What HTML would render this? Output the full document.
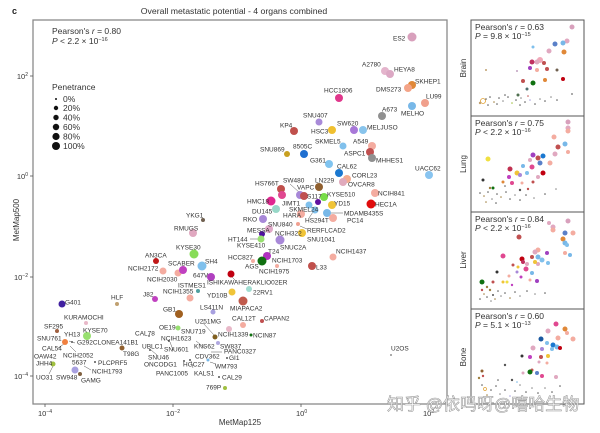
<!DOCTYPE html>
<html><head><meta charset="utf-8"><style>
html,body{margin:0;padding:0;background:#fff;}
svg{display:block;}
text{font-family:"Liberation Sans","Noto Sans CJK SC",sans-serif;}
.l{font-size:6.5px;fill:#333;}
.t{font-size:7.5px;fill:#333;}
</style></head><body>
<svg width="600" height="433" viewBox="0 0 600 433" xmlns="http://www.w3.org/2000/svg">
<rect width="600" height="433" fill="#fff"/>
<text x="12" y="14" font-size="9" font-weight="bold" fill="#222">c</text>
<text x="234" y="14" font-size="8.7" fill="#333" text-anchor="middle">Overall metastatic potential - 4 organs combined</text>

<!-- main frame -->
<rect x="33" y="20" width="414" height="384" fill="none" stroke="#8a8a8a" stroke-width="1.3"/>
<g stroke="#555" stroke-width="0.8">
<line x1="30" y1="76" x2="33" y2="76"/><line x1="30" y1="176" x2="33" y2="176"/><line x1="30" y1="277" x2="33" y2="277"/><line x1="30" y1="376" x2="33" y2="376"/>
<line x1="45" y1="404" x2="45" y2="407"/><line x1="173" y1="404" x2="173" y2="407"/><line x1="301" y1="404" x2="301" y2="407"/><line x1="428" y1="404" x2="428" y2="407"/>
</g>
<g class="t" text-anchor="end">
<text x="28" y="79">10<tspan dy="-3" font-size="5">2</tspan></text>
<text x="28" y="179">10<tspan dy="-3" font-size="5">0</tspan></text>
<text x="28" y="280">10<tspan dy="-3" font-size="5">−2</tspan></text>
<text x="28" y="379">10<tspan dy="-3" font-size="5">−4</tspan></text>
</g>
<g class="t">
<text x="38" y="416">10<tspan dy="-3" font-size="5">−4</tspan></text>
<text x="166" y="416">10<tspan dy="-3" font-size="5">−2</tspan></text>
<text x="296" y="416">10<tspan dy="-3" font-size="5">0</tspan></text>
<text x="423" y="416">10<tspan dy="-3" font-size="5">2</tspan></text>
</g>
<text x="240" y="425" font-size="8" fill="#333" text-anchor="middle">MetMap125</text>
<text transform="translate(19,220) rotate(-90)" font-size="8" fill="#333" text-anchor="middle">MetMap500</text>

<!-- annotation -->
<text x="52" y="34" font-size="8.5" fill="#333">Pearson's <tspan font-style="italic">r</tspan> = 0.80</text>
<text x="52" y="44" font-size="8.5" fill="#333"><tspan font-style="italic">P</tspan> &lt; 2.2 × 10<tspan dy="-3" font-size="5.5">−16</tspan></text>
<!-- legend -->
<text x="52" y="90" font-size="8.5" fill="#333">Penetrance</text>
<g fill="#111">
<circle cx="56" cy="99" r="1"/><circle cx="56" cy="108" r="2.2"/><circle cx="56" cy="117.5" r="2.7"/><circle cx="56" cy="127" r="3.2"/><circle cx="56" cy="136.5" r="3.6"/><circle cx="56" cy="146" r="4"/>
</g>
<g font-size="8.5" fill="#333">
<text x="63" y="102">0%</text><text x="63" y="111">20%</text><text x="63" y="120.5">40%</text><text x="63" y="130">60%</text><text x="63" y="139.5">80%</text><text x="63" y="149">100%</text>
</g>

<!-- connector lines -->
<g stroke="#555" stroke-width="0.5" fill="none">
<line x1="290" y1="184" x2="300" y2="193"/>
<line x1="331" y1="213" x2="343" y2="213"/>
<line x1="309" y1="218" x2="313" y2="212"/>
<line x1="250" y1="239" x2="260" y2="239"/>
<line x1="300" y1="226" x2="307" y2="229"/>
<line x1="231" y1="276" x2="236" y2="281"/>
<line x1="203" y1="323" x2="214" y2="335"/>
<line x1="196" y1="341" x2="205" y2="348"/>
<line x1="211" y1="352" x2="222" y2="352"/>
<line x1="210" y1="362" x2="216" y2="364"/>
<line x1="84" y1="366" x2="91" y2="370"/>
<line x1="53" y1="366" x2="49" y2="374"/>
<line x1="58" y1="348" x2="64" y2="344"/>
<line x1="70" y1="346" x2="76" y2="352"/>
<line x1="69" y1="341" x2="75" y2="343"/>
<line x1="193" y1="368" x2="191" y2="361"/>
<line x1="173" y1="350" x2="170" y2="342"/>
<line x1="157" y1="355" x2="151" y2="350"/>
</g>

<!-- main points -->
<g>
<circle cx="412" cy="37" r="4.5" fill="#d8a0bc"/>
<circle cx="385" cy="71" r="4" fill="#e4b4cc"/>
<circle cx="390" cy="74" r="4" fill="#dca8c4"/>
<circle cx="412" cy="85" r="4" fill="#e08838"/>
<circle cx="408" cy="88" r="4" fill="#f4a488"/>
<circle cx="425" cy="103" r="4" fill="#f0a08c"/>
<circle cx="339" cy="98" r="4" fill="#e0388c"/>
<circle cx="412" cy="106" r="4" fill="#78b8e8"/>
<circle cx="382" cy="116" r="4" fill="#909090"/>
<circle cx="319" cy="122" r="3.5" fill="#a88ad8"/>
<circle cx="354" cy="130" r="4" fill="#a878d8"/>
<circle cx="363" cy="130" r="4" fill="#88c4ec"/>
<circle cx="294" cy="131" r="4" fill="#c0504c"/>
<circle cx="332" cy="130" r="4" fill="#f0c030"/>
<circle cx="343" cy="146" r="3.5" fill="#80c0ec"/>
<circle cx="372" cy="146" r="4" fill="#f4aca0"/>
<circle cx="370" cy="152" r="4" fill="#c05050"/>
<circle cx="372" cy="158" r="4" fill="#909090"/>
<circle cx="287" cy="154" r="3" fill="#c8a020"/>
<circle cx="304" cy="154" r="4" fill="#1f6fd0"/>
<circle cx="329" cy="164" r="4" fill="#80c4f0"/>
<circle cx="339" cy="173" r="4" fill="#1a78d0"/>
<circle cx="429" cy="175" r="4" fill="#88c4f0"/>
<circle cx="347" cy="179" r="4" fill="#f4ac90"/>
<circle cx="343" cy="182" r="4" fill="#e0aabc"/>
<circle cx="319" cy="187" r="4" fill="#906030"/>
<circle cx="375" cy="193" r="4" fill="#f4aca0"/>
<circle cx="371" cy="204" r="4.5" fill="#e00c0c"/>
<circle cx="324" cy="197" r="4" fill="#78dc48"/>
<circle cx="332" cy="205" r="4" fill="#f0c438"/>
<circle cx="318" cy="202" r="3" fill="#6010a0"/>
<circle cx="327" cy="213" r="4" fill="#78b8e8"/>
<circle cx="333" cy="218" r="4" fill="#f4aca0"/>
<circle cx="281" cy="189" r="4" fill="#c0504c"/>
<circle cx="282" cy="195" r="4" fill="#e04890"/>
<circle cx="300" cy="195" r="4" fill="#a888d8"/>
<circle cx="304" cy="196" r="4" fill="#c05050"/>
<circle cx="271" cy="201" r="4.5" fill="#e02890"/>
<circle cx="309" cy="205" r="3.5" fill="#80c0ec"/>
<circle cx="315" cy="210" r="3.5" fill="#80c0ec"/>
<circle cx="276" cy="209" r="4" fill="#98d8c8"/>
<circle cx="301" cy="214" r="4" fill="#f4aca0"/>
<circle cx="263" cy="219" r="4" fill="#a888d8"/>
<circle cx="269" cy="229" r="4" fill="#e0a8c8"/>
<circle cx="298" cy="224" r="2" fill="#f0a090"/>
<circle cx="262" cy="234" r="3" fill="#5010a0"/>
<circle cx="302" cy="233" r="4" fill="#f0c438"/>
<circle cx="261" cy="239" r="3.5" fill="#98e070"/>
<circle cx="280" cy="240" r="4.5" fill="#a888d8"/>
<circle cx="267" cy="256" r="4" fill="#b030c0"/>
<circle cx="253" cy="261" r="2" fill="#f4aca0"/>
<circle cx="262" cy="261" r="4.5" fill="#107010"/>
<circle cx="277" cy="266" r="2" fill="#f4aca0"/>
<circle cx="333" cy="257" r="3.5" fill="#f4aca0"/>
<circle cx="312" cy="266" r="4" fill="#c0504c"/>
<circle cx="231" cy="274" r="3.5" fill="#c00010"/>
<circle cx="249" cy="289" r="3" fill="#a0dcd0"/>
<circle cx="232" cy="292" r="3.5" fill="#f0c438"/>
<circle cx="243" cy="301" r="4.5" fill="#c05a4c"/>
<circle cx="243" cy="325" r="3" fill="#f4aca0"/>
<circle cx="262" cy="321" r="2" fill="#c05050"/>
<circle cx="229" cy="329" r="3" fill="#e8b8c8"/>
<circle cx="251" cy="335" r="1.5" fill="#107010"/>
<circle cx="391" cy="355" r="1" fill="#909090"/>
<circle cx="203" cy="220" r="2" fill="#706050"/>
<circle cx="193" cy="233" r="4" fill="#e0a8c0"/>
<circle cx="194" cy="254" r="4.5" fill="#88dc58"/>
<circle cx="202" cy="266" r="4.5" fill="#80c0ec"/>
<circle cx="178" cy="273" r="3.5" fill="#f4aca0"/>
<circle cx="183" cy="270" r="4" fill="#c040c0"/>
<circle cx="211" cy="277" r="4" fill="#b040c0"/>
<circle cx="156" cy="261" r="3" fill="#c01818"/>
<circle cx="163" cy="271" r="3.5" fill="#f4aca0"/>
<circle cx="198" cy="291" r="2" fill="#50a0a0"/>
<circle cx="190" cy="298" r="3.5" fill="#f4aca0"/>
<circle cx="155" cy="299" r="3" fill="#c040c0"/>
<circle cx="117" cy="304" r="2" fill="#c0a070"/>
<circle cx="62" cy="304" r="3.5" fill="#4020a0"/>
<circle cx="179" cy="314" r="4" fill="#a06020"/>
<circle cx="213" cy="312" r="2.5" fill="#a8a0e0"/>
<circle cx="86" cy="323" r="2" fill="#e8b8c8"/>
<circle cx="57" cy="331" r="2" fill="#a06040"/>
<circle cx="178" cy="328" r="2.5" fill="#98e070"/>
<circle cx="215" cy="337" r="2.5" fill="#806020"/>
<circle cx="87" cy="336" r="4" fill="#98e070"/>
<circle cx="149" cy="336" r="1" fill="#808080"/>
<circle cx="65" cy="342" r="3" fill="#f08040"/>
<circle cx="122" cy="348" r="2.5" fill="#906030"/>
<circle cx="53" cy="364" r="2.5" fill="#a0c040"/>
<circle cx="75" cy="370" r="3.5" fill="#a8a0e0"/>
<circle cx="80" cy="374" r="2" fill="#806040"/>
<circle cx="225" cy="388" r="2" fill="#a0c040"/>
<circle cx="218" cy="343" r="2" fill="#b0a8e0"/>
<circle cx="95" cy="362" r="1" fill="#555"/>
<circle cx="227" cy="358" r="1" fill="#555"/>
<circle cx="219" cy="377" r="1" fill="#555"/>
<circle cx="208" cy="360" r="1.5" fill="#78b8e8"/>
<circle cx="190" cy="360" r="1" fill="#555"/>
<circle cx="184" cy="361" r="1" fill="#555"/>
<circle cx="72" cy="342" r="1" fill="#555"/>
<circle cx="169" cy="341" r="1" fill="#555"/>
<circle cx="150" cy="350" r="1" fill="#555"/>
</g>

<!-- main labels -->
<g class="l">
<text x="393" y="40.5">ES2</text>
<text x="362" y="66.5">A2780</text>
<text x="394" y="71.5">HEYA8</text>
<text x="415" y="83.5">SKHEP1</text>
<text x="376" y="91.5">DMS273</text>
<text x="426" y="98.5">LU99</text>
<text x="324" y="92.5">HCC1806</text>
<text x="382" y="111.5">A673</text>
<text x="401" y="115.5">MELHO</text>
<text x="303" y="117.5">SNU407</text>
<text x="337" y="125.5">SW620</text>
<text x="367" y="129.5">MELJUSO</text>
<text x="280" y="127.5">KP4</text>
<text x="311" y="133.5">HSC3</text>
<text x="315" y="143.5">SKMEL5</text>
<text x="353" y="143.5">A549</text>
<text x="344" y="155.5">ASPC1</text>
<text x="376" y="162.5">MHHES1</text>
<text x="260" y="151.5">SNU869</text>
<text x="293" y="148.5">8505C</text>
<text x="310" y="162.5">G361</text>
<text x="337" y="168.5">CAL62</text>
<text x="415" y="170.5">UACC62</text>
<text x="352" y="177.5">CORL23</text>
<text x="348" y="186.5">OVCAR8</text>
<text x="315" y="182.5">LN229</text>
<text x="378" y="195.5">NCIH841</text>
<text x="375" y="206.5">HEC1A</text>
<text x="327" y="196.5">KYSE510</text>
<text x="334" y="205.5">YD15</text>
<text x="344" y="215.5">MDAMB435S</text>
<text x="347" y="222.5">PC14</text>
<text x="255" y="185.5">HS766T</text>
<text x="283" y="182.5">SW480</text>
<text x="297" y="189.5">VAPC</text>
<text x="307" y="198.5">S117</text>
<text x="247" y="203.5">HMC18</text>
<text x="282" y="205.5">JIMT1</text>
<text x="289" y="211.5">SKMEL24</text>
<text x="252" y="213.5">DU145</text>
<text x="283" y="217.5">HARA</text>
<text x="305" y="222.5">HS294T</text>
<text x="243" y="221.5">RKO</text>
<text x="268" y="226.5">SNU840</text>
<text x="307" y="232.5">RERFLCAD2</text>
<text x="247" y="232.5">MESSA</text>
<text x="275" y="235.5">NCIH322</text>
<text x="307" y="241.5">SNU1041</text>
<text x="228" y="241.5">HT144</text>
<text x="237" y="247.5">KYSE410</text>
<text x="280" y="249.5">SNUC2A</text>
<text x="268" y="253.5">T24</text>
<text x="228" y="259.5">HCC827</text>
<text x="245" y="268.5">AGS</text>
<text x="272" y="262.5">NCIH1703</text>
<text x="259" y="273.5">NCIH1975</text>
<text x="336" y="253.5">NCIH1437</text>
<text x="316" y="269.5">L33</text>
<text x="207" y="284.5">ISHIKAWAHERAKLIO02ER</text>
<text x="253" y="294.5">22RV1</text>
<text x="207" y="297.5">YD10B</text>
<text x="230" y="310.5">MIAPACA2</text>
<text x="232" y="320.5">CAL12T</text>
<text x="264" y="320.5">CAPAN2</text>
<text x="218" y="336.5">NCIH1339</text>
<text x="253" y="337.5">NCIN87</text>
<text x="391" y="350.5">U2OS</text>
<text x="186" y="217.5">YKG1</text>
<text x="174" y="230.5">RMUGS</text>
<text x="176" y="249.5">KYSE30</text>
<text x="205" y="263.5">SH4</text>
<text x="168" y="265.5">SCABER</text>
<text x="193" y="277.5">647V</text>
<text x="145" y="257.5">AN3CA</text>
<text x="128" y="270.5">NCIH2172</text>
<text x="147" y="281.5">NCIH2030</text>
<text x="178" y="287.5">ISTMES1</text>
<text x="163" y="293.5">NCIH1355</text>
<text x="143" y="296.5">J82</text>
<text x="111" y="299.5">HLF</text>
<text x="65" y="304.5">G401</text>
<text x="163" y="311.5">GB1</text>
<text x="200" y="309.5">LS411N</text>
<text x="64" y="319.5">KURAMOCHI</text>
<text x="44" y="328.5">SF295</text>
<text x="159" y="329.5">OE19</text>
<text x="181" y="333.5">SNU719</text>
<text x="195" y="323.5">U251MG</text>
<text x="83" y="332.5">KYSE70</text>
<text x="37" y="340.5">SNU761</text>
<text x="64" y="336.5">YH13</text>
<text x="135" y="335.5">CAL78</text>
<text x="161" y="340.5">NCIH1623</text>
<text x="194" y="348.5">KNS62</text>
<text x="220" y="348.5">SW837</text>
<text x="77" y="344.5">G292CLONEA141B1</text>
<text x="42" y="350.5">CAL54</text>
<text x="142" y="348.5">UBLC1</text>
<text x="164" y="351.5">SNU601</text>
<text x="224" y="353.5">PANC0327</text>
<text x="63" y="357.5">NCIH2052</text>
<text x="123" y="356">T98G</text>
<text x="34" y="358.5">OAW42</text>
<text x="195" y="358.5">CDV362</text>
<text x="229" y="360">GI1</text>
<text x="148" y="359.5">SNU46</text>
<text x="183" y="366.5">HGC27</text>
<text x="215" y="368.5">WM793</text>
<text x="36" y="365.5">JHH4</text>
<text x="72" y="364.5">5637</text>
<text x="98" y="365">PLCPRF5</text>
<text x="144" y="366.5">ONCODG1</text>
<text x="92" y="373.5">NCIH1793</text>
<text x="194" y="375.5">KALS1</text>
<text x="222" y="379.5">CAL29</text>
<text x="36" y="379.5">UO31</text>
<text x="56" y="379.5">SW948</text>
<text x="81" y="382.5">GAMG</text>
<text x="156" y="375.5">PANC1005</text>
<text x="206" y="389.5">769P</text>
</g>

<!-- right panels -->
<g fill="none" stroke="#555" stroke-width="1">
<rect x="471" y="20" width="113" height="384"/>
<line x1="471" y1="116" x2="584" y2="116"/>
<line x1="471" y1="212" x2="584" y2="212"/>
<line x1="471" y1="309" x2="584" y2="309"/>
</g>
<g font-size="8" fill="#333" text-anchor="middle">
<text transform="translate(466,68) rotate(-90)">Brain</text>
<text transform="translate(466,164) rotate(-90)">Lung</text>
<text transform="translate(466,260) rotate(-90)">Liver</text>
<text transform="translate(466,357) rotate(-90)">Bone</text>
</g>
<g font-size="8.5" fill="#333">
<text x="475" y="30">Pearson's <tspan font-style="italic">r</tspan> = 0.63</text>
<text x="475" y="39"><tspan font-style="italic">P</tspan> = 9.8 × 10<tspan dy="-3" font-size="5.5">−15</tspan></text>
<text x="475" y="126">Pearson's <tspan font-style="italic">r</tspan> = 0.75</text>
<text x="475" y="135"><tspan font-style="italic">P</tspan> &lt; 2.2 × 10<tspan dy="-3" font-size="5.5">−16</tspan></text>
<text x="475" y="222">Pearson's <tspan font-style="italic">r</tspan> = 0.84</text>
<text x="475" y="231"><tspan font-style="italic">P</tspan> &lt; 2.2 × 10<tspan dy="-3" font-size="5.5">−16</tspan></text>
<text x="475" y="319">Pearson's <tspan font-style="italic">r</tspan> = 0.60</text>
<text x="475" y="328"><tspan font-style="italic">P</tspan> = 5.1 × 10<tspan dy="-3" font-size="5.5">−13</tspan></text>
</g>

<!-- brain -->
<g>
<circle cx="572" cy="27" r="2.5" fill="#d8a0bc"/><circle cx="567" cy="41" r="2.5" fill="#e0a8c0"/><circle cx="563" cy="43" r="2.5" fill="#78b8e8"/><circle cx="555" cy="44" r="2.5" fill="#5a80c8"/><circle cx="549" cy="51" r="2.5" fill="#e0a8c0"/><circle cx="564" cy="52" r="2.5" fill="#e08838"/><circle cx="533" cy="47" r="1.5" fill="#80c0ec"/><circle cx="540" cy="60" r="3" fill="#f0a8b8"/><circle cx="537" cy="62" r="2.5" fill="#e0a8c0"/><circle cx="532" cy="62" r="2.5" fill="#c03060"/><circle cx="544" cy="63" r="2" fill="#c05050"/><circle cx="530" cy="68" r="2" fill="#a040c0"/><circle cx="537" cy="70" r="2" fill="#f4aca0"/><circle cx="547" cy="69" r="2" fill="#c05050"/><circle cx="557" cy="70" r="1.5" fill="#706050"/><circle cx="523" cy="81" r="2" fill="#c05050"/><circle cx="533" cy="83" r="2.5" fill="#107010"/><circle cx="545" cy="80" r="2" fill="#e08838"/><circle cx="563" cy="79" r="2" fill="#c00010"/><circle cx="527" cy="89" r="1.5" fill="#507070"/><circle cx="517" cy="71" r="1" fill="#c0a0c0"/><circle cx="486" cy="70" r="1" fill="#c0a070"/><circle cx="572" cy="94" r="1" fill="#909090"/><circle cx="518" cy="95" r="1.5" fill="#507050"/><circle cx="483" cy="101" r="2.5" fill="none" stroke="#e0a030" stroke-width="0.8"/><circle cx="480" cy="103" r="1.2" fill="#c0a070"/>
<circle cx="486" cy="99" r="0.8" fill="#555"/><circle cx="490" cy="97" r="0.8" fill="#555"/><circle cx="494" cy="102" r="0.8" fill="#a08040"/><circle cx="499" cy="98" r="0.8" fill="#555"/><circle cx="503" cy="101" r="0.8" fill="#888"/><circle cx="508" cy="97" r="0.8" fill="#555"/><circle cx="512" cy="103" r="0.8" fill="#a0c040"/><circle cx="516" cy="100" r="0.8" fill="#555"/><circle cx="521" cy="98" r="0.8" fill="#888"/><circle cx="525" cy="102" r="0.8" fill="#555"/><circle cx="530" cy="100" r="0.8" fill="#a8a0e0"/><circle cx="535" cy="104" r="0.8" fill="#555"/><circle cx="540" cy="99" r="0.8" fill="#888"/><circle cx="545" cy="101" r="0.8" fill="#555"/><circle cx="551" cy="97" r="0.8" fill="#888"/><circle cx="557" cy="100" r="0.8" fill="#555"/><circle cx="488" cy="105" r="0.8" fill="#555"/><circle cx="497" cy="104" r="0.8" fill="#555"/><circle cx="505" cy="95" r="0.8" fill="#555"/><circle cx="520" cy="105" r="0.8" fill="#555"/><circle cx="528" cy="96" r="0.8" fill="#c05050"/>
</g>
<!-- lung -->
<g>
<circle cx="568" cy="122" r="2.5" fill="#d8a0bc"/><circle cx="568" cy="128" r="2.5" fill="#e0a8c0"/><circle cx="568" cy="131" r="2.5" fill="#f4aca0"/><circle cx="554" cy="137" r="2.5" fill="#f4aca0"/><circle cx="565" cy="144" r="2.5" fill="#78b8e8"/><circle cx="558" cy="147" r="2.5" fill="#c05050"/><circle cx="488" cy="159" r="2.5" fill="#f0e040"/><circle cx="543" cy="156" r="2.5" fill="#1a78d0"/><circle cx="555" cy="154" r="2.5" fill="#e0a8c0"/><circle cx="568" cy="152" r="2" fill="#f4aca0"/><circle cx="533" cy="155" r="2.5" fill="#a040c0"/><circle cx="538" cy="158" r="2.5" fill="#c05050"/><circle cx="540" cy="163" r="2.5" fill="#5a80c8"/><circle cx="550" cy="163" r="2.5" fill="#f4aca0"/><circle cx="530" cy="160" r="2" fill="#e0a8c0"/><circle cx="523" cy="166" r="2" fill="#78b8e8"/><circle cx="532" cy="167" r="2.5" fill="#e04890"/><circle cx="510" cy="169" r="2.5" fill="#c03050"/><circle cx="517" cy="173" r="2.5" fill="#f0c438"/><circle cx="520" cy="175" r="2" fill="#a888d8"/><circle cx="527" cy="173" r="2" fill="#80c0ec"/><circle cx="543" cy="173" r="2.5" fill="#c00010"/><circle cx="538" cy="177" r="2" fill="#e0a8c0"/><circle cx="509" cy="177" r="2" fill="#c040c0"/><circle cx="503" cy="182" r="1.5" fill="#e08838"/><circle cx="512" cy="183" r="2" fill="#e04890"/><circle cx="533" cy="182" r="1.5" fill="#c05050"/><circle cx="483" cy="180" r="1.5" fill="#333"/><circle cx="493" cy="188" r="1.5" fill="#107010"/><circle cx="490" cy="188" r="1.2" fill="#a08040"/><circle cx="522" cy="183" r="1.5" fill="#f4aca0"/><circle cx="528" cy="189" r="1.2" fill="#c05050"/><circle cx="520" cy="190" r="1.2" fill="#555"/>
<circle cx="480" cy="193" r="0.8" fill="#555"/><circle cx="484" cy="196" r="0.8" fill="#a08040"/><circle cx="488" cy="192" r="0.8" fill="#555"/><circle cx="492" cy="199" r="0.8" fill="#888"/><circle cx="497" cy="194" r="0.8" fill="#555"/><circle cx="501" cy="197" r="0.8" fill="#a08040"/><circle cx="506" cy="192" r="0.8" fill="#555"/><circle cx="510" cy="199" r="0.8" fill="#555"/><circle cx="515" cy="195" r="0.8" fill="#888"/><circle cx="520" cy="200" r="0.8" fill="#555"/><circle cx="526" cy="195" r="0.8" fill="#555"/><circle cx="534" cy="198" r="0.8" fill="#888"/><circle cx="545" cy="194" r="0.8" fill="#555"/><circle cx="556" cy="189" r="0.8" fill="#888"/><circle cx="486" cy="202" r="0.8" fill="#a08040"/><circle cx="496" cy="203" r="0.8" fill="#555"/><circle cx="505" cy="186" r="0.8" fill="#555"/>
</g>
<!-- liver -->
<g>
<circle cx="568" cy="221" r="2.5" fill="#d8a0bc"/><circle cx="549" cy="223" r="2" fill="#e0a8c0"/><circle cx="553" cy="227" r="2.5" fill="#e0a8c0"/><circle cx="553" cy="230" r="2.5" fill="#f4aca0"/><circle cx="565" cy="233" r="2.5" fill="#5a80c8"/><circle cx="573" cy="233" r="2.5" fill="#f4aca0"/><circle cx="563" cy="239" r="2.5" fill="#e08838"/><circle cx="565" cy="243" r="2.5" fill="#78b8e8"/><circle cx="567" cy="245" r="2" fill="#80c0ec"/><circle cx="519" cy="237" r="2.5" fill="#c05050"/><circle cx="565" cy="253" r="2" fill="#f4aca0"/><circle cx="570" cy="255" r="2" fill="#78b8e8"/><circle cx="538" cy="250" r="2.5" fill="#f4aca0"/><circle cx="535" cy="252" r="2.5" fill="#e0a8c0"/><circle cx="547" cy="253" r="2" fill="#a040c0"/><circle cx="503" cy="256" r="2.5" fill="#e04890"/><circle cx="538" cy="257" r="2.5" fill="#78b8e8"/><circle cx="532" cy="257" r="2" fill="#c05050"/><circle cx="542" cy="260" r="2.5" fill="#80c0ec"/><circle cx="522" cy="259" r="2.5" fill="#c00010"/><circle cx="523" cy="262" r="2" fill="#c03060"/><circle cx="548" cy="263" r="2" fill="#80c0ec"/><circle cx="538" cy="264" r="2" fill="#e0a8c0"/><circle cx="535" cy="262" r="2" fill="#f0c438"/><circle cx="527" cy="264" r="2" fill="#e0a8c0"/><circle cx="513" cy="265" r="1.5" fill="#c05050"/><circle cx="518" cy="267" r="1.5" fill="#f0c438"/><circle cx="526" cy="269" r="2.5" fill="#e04890"/><circle cx="532" cy="273" r="2" fill="#78b8e8"/><circle cx="517" cy="272" r="1.5" fill="#a888d8"/><circle cx="497" cy="272" r="1.5" fill="#333"/><circle cx="509" cy="276" r="1.5" fill="#f4aca0"/><circle cx="521" cy="277" r="1.5" fill="#c040c0"/><circle cx="530" cy="280" r="1.5" fill="#f4aca0"/><circle cx="537" cy="281" r="2" fill="#a040c0"/><circle cx="482" cy="282" r="2.5" fill="#107010"/><circle cx="493" cy="282" r="1.5" fill="#c05050"/><circle cx="503" cy="282" r="1.5" fill="#f0c438"/><circle cx="507" cy="282" r="1.5" fill="#f0e040"/><circle cx="512" cy="285" r="1.2" fill="#c040c0"/><circle cx="487" cy="287" r="1.2" fill="#a08040"/><circle cx="482" cy="290" r="1.2" fill="#c05050"/><circle cx="490" cy="290" r="1.2" fill="#a08040"/><circle cx="493" cy="295" r="1" fill="#555"/>
<circle cx="484" cy="294" r="0.8" fill="#a08040"/><circle cx="487" cy="297" r="0.8" fill="#555"/><circle cx="495" cy="299" r="0.8" fill="#a08040"/><circle cx="498" cy="291" r="0.8" fill="#555"/><circle cx="501" cy="296" r="0.8" fill="#888"/><circle cx="505" cy="293" r="0.8" fill="#555"/><circle cx="510" cy="298" r="0.8" fill="#a08040"/><circle cx="515" cy="292" r="0.8" fill="#555"/><circle cx="520" cy="296" r="0.8" fill="#888"/><circle cx="527" cy="291" r="0.8" fill="#555"/><circle cx="535" cy="294" r="0.8" fill="#888"/><circle cx="545" cy="293" r="0.8" fill="#555"/><circle cx="480" cy="299" r="0.8" fill="#555"/><circle cx="491" cy="301" r="0.8" fill="#888"/>
</g>
<!-- bone -->
<g>
<circle cx="556" cy="324" r="2.5" fill="#e04890"/><circle cx="565" cy="329" r="2.5" fill="#e08838"/><circle cx="567" cy="333" r="2" fill="#f4aca0"/><circle cx="548" cy="331" r="2.5" fill="#e0a8c0"/><circle cx="573" cy="339" r="2.5" fill="#f4aca0"/><circle cx="558" cy="338" r="2.5" fill="#f4aca0"/><circle cx="541" cy="339" r="2.5" fill="#1a58a0"/><circle cx="547" cy="343" r="2" fill="#80c0ec"/><circle cx="533" cy="348" r="2.5" fill="#e0a8c0"/><circle cx="553" cy="345" r="2.5" fill="#1a78d0"/><circle cx="557" cy="347" r="2.5" fill="#78b8e8"/><circle cx="552" cy="349" r="2" fill="#80c0ec"/><circle cx="560" cy="348" r="2" fill="#c00010"/><circle cx="542" cy="349" r="2" fill="#a888d8"/><circle cx="548" cy="356" r="2" fill="#f0c438"/><circle cx="541" cy="357" r="2" fill="#c05050"/><circle cx="522" cy="356" r="1.5" fill="#333"/><circle cx="530" cy="357" r="2" fill="#c040c0"/><circle cx="539" cy="362" r="1.5" fill="#e0a8c0"/><circle cx="547" cy="363" r="1.5" fill="#f4aca0"/><circle cx="505" cy="365" r="1.2" fill="#555"/><circle cx="532" cy="370" r="1.5" fill="#c05050"/><circle cx="530" cy="372" r="2.5" fill="#107010"/><circle cx="537" cy="373" r="2" fill="#5a80c8"/><circle cx="523" cy="373" r="1.5" fill="#e0a8c0"/><circle cx="542" cy="376" r="2" fill="#e04890"/><circle cx="556" cy="377" r="2" fill="#e0a8c0"/><circle cx="482" cy="371" r="1.5" fill="#906030"/><circle cx="483" cy="376" r="1.2" fill="#c05050"/><circle cx="479" cy="378" r="1.2" fill="#a08040"/><circle cx="512" cy="380" r="1.2" fill="#555"/>
<circle cx="482" cy="385" r="0.8" fill="#555"/><circle cx="485" cy="389" r="1.5" fill="none" stroke="#e0a030" stroke-width="0.7"/><circle cx="487" cy="395" r="0.8" fill="#a08040"/><circle cx="491" cy="390" r="0.8" fill="#555"/><circle cx="496" cy="386" r="0.8" fill="#555"/><circle cx="500" cy="394" r="0.8" fill="#888"/><circle cx="505" cy="390" r="0.8" fill="#555"/><circle cx="510" cy="396" r="0.8" fill="#a8a0e0"/><circle cx="515" cy="391" r="0.8" fill="#555"/><circle cx="520" cy="385" r="0.8" fill="#888"/><circle cx="526" cy="392" r="0.8" fill="#555"/><circle cx="532" cy="388" r="0.8" fill="#888"/><circle cx="538" cy="393" r="0.8" fill="#555"/><circle cx="545" cy="388" r="0.8" fill="#888"/><circle cx="552" cy="392" r="0.8" fill="#555"/><circle cx="560" cy="386" r="0.8" fill="#555"/><circle cx="498" cy="380" r="0.8" fill="#555"/><circle cx="517" cy="382" r="0.8" fill="#78b8e8"/>
</g>

<!-- watermark -->
<text x="387" y="410" font-size="17" fill="#fff" stroke="#9a9a9a" stroke-width="0.6" font-family="'Liberation Sans','Noto Sans CJK SC',sans-serif">知乎 @依吗呀@嘻哈生物</text>
</svg>
</body></html>
